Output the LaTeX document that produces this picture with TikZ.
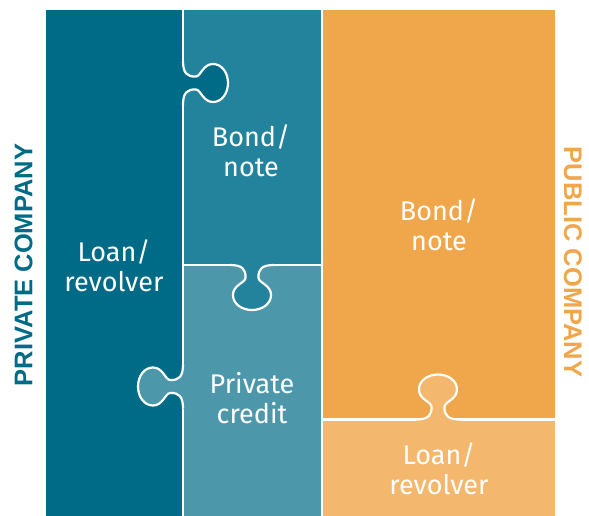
\documentclass[tikz,border=0pt]{standalone}
\usepackage{fontspec}
\setmainfont{Fira Sans}
\newfontfamily\capfont{Liberation Sans}
\definecolor{cA}{HTML}{006B86}
\definecolor{cB}{HTML}{23839D}
\definecolor{cC}{HTML}{4D97AB}
\definecolor{cD}{HTML}{F0A74B}
\definecolor{cE}{HTML}{F3B76E}
\tikzset{
  seam/.style={draw=white, line width=2.2pt},
  lbl/.style={text=white, font=\fontsize{27}{30}\selectfont, align=center, inner sep=0pt, anchor=base},
  side/.style={font=\capfont\bfseries\fontsize{25.5}{28}\selectfont, inner sep=0pt},
  pics/knob/.style={code={
    \fill[#1] (-22,-2) -- (-22,0) .. controls (-10,0) and (-6,4) .. (-6.5,13)
      .. controls (-7,18) and (-19,20) .. (-19,30)
      .. controls (-19,39) and (-10,45) .. (0,45)
      .. controls (10,45) and (19,39) .. (19,30)
      .. controls (19,20) and (7,18) .. (6.5,13)
      .. controls (6,4) and (10,0) .. (22,0) -- (22,-2) -- cycle;
    \draw[seam] (-22,0) .. controls (-10,0) and (-6,4) .. (-6.5,13)
      .. controls (-7,18) and (-19,20) .. (-19,30)
      .. controls (-19,39) and (-10,45) .. (0,45)
      .. controls (10,45) and (19,39) .. (19,30)
      .. controls (19,20) and (7,18) .. (6.5,13)
      .. controls (6,4) and (10,0) .. (22,0);
  }}
}
\begin{document}
\begin{tikzpicture}[x=1pt,y=-1pt]
\useasboundingbox (0,0) rectangle (589,516);
% pieces
\fill[cA] (46,10) rectangle (183,516);
\fill[cB] (183,10) rectangle (322,265);
\fill[cC] (183,265) rectangle (322,516);
\fill[cD] (322,10) rectangle (554.5,419.5);
\fill[cE] (322,419.5) rectangle (554.5,516);
% seams
\draw[seam] (183,10) -- (183,516);
\draw[seam] (322,10) -- (322,516);
\draw[seam] (183,265) -- (322,265);
\draw[seam] (322,419.5) -- (554.5,419.5);
% knobs
\pic[rotate=90] at (183,83) {knob=cA};
\pic at (252,265) {knob=cB};
\pic[rotate=-90] at (183,386.5) {knob=cC};
\pic[rotate=180] at (438,419.5) {knob=cE};
% labels (base = baseline of the last line)
\node[lbl] (t1) at (114,291.7) {Loan/\\revolver};
\node[lbl] (t2) at (251,176) {Bond/\\note};
\node[lbl] (t3) at (252,423.3) {Private\\credit};
\node[lbl] (t4) at (439,250) {Bond/\\note};
\node[lbl] (t5) at (439,494) {Loan/\\revolver};
\node[side, text=cA, rotate=90] (priv) at (23.5,265) {PRIVATE COMPANY};
\node[side, text=cD, rotate=-90] (pub) at (573,262) {PUBLIC COMPANY};
\end{tikzpicture}
\end{document}
